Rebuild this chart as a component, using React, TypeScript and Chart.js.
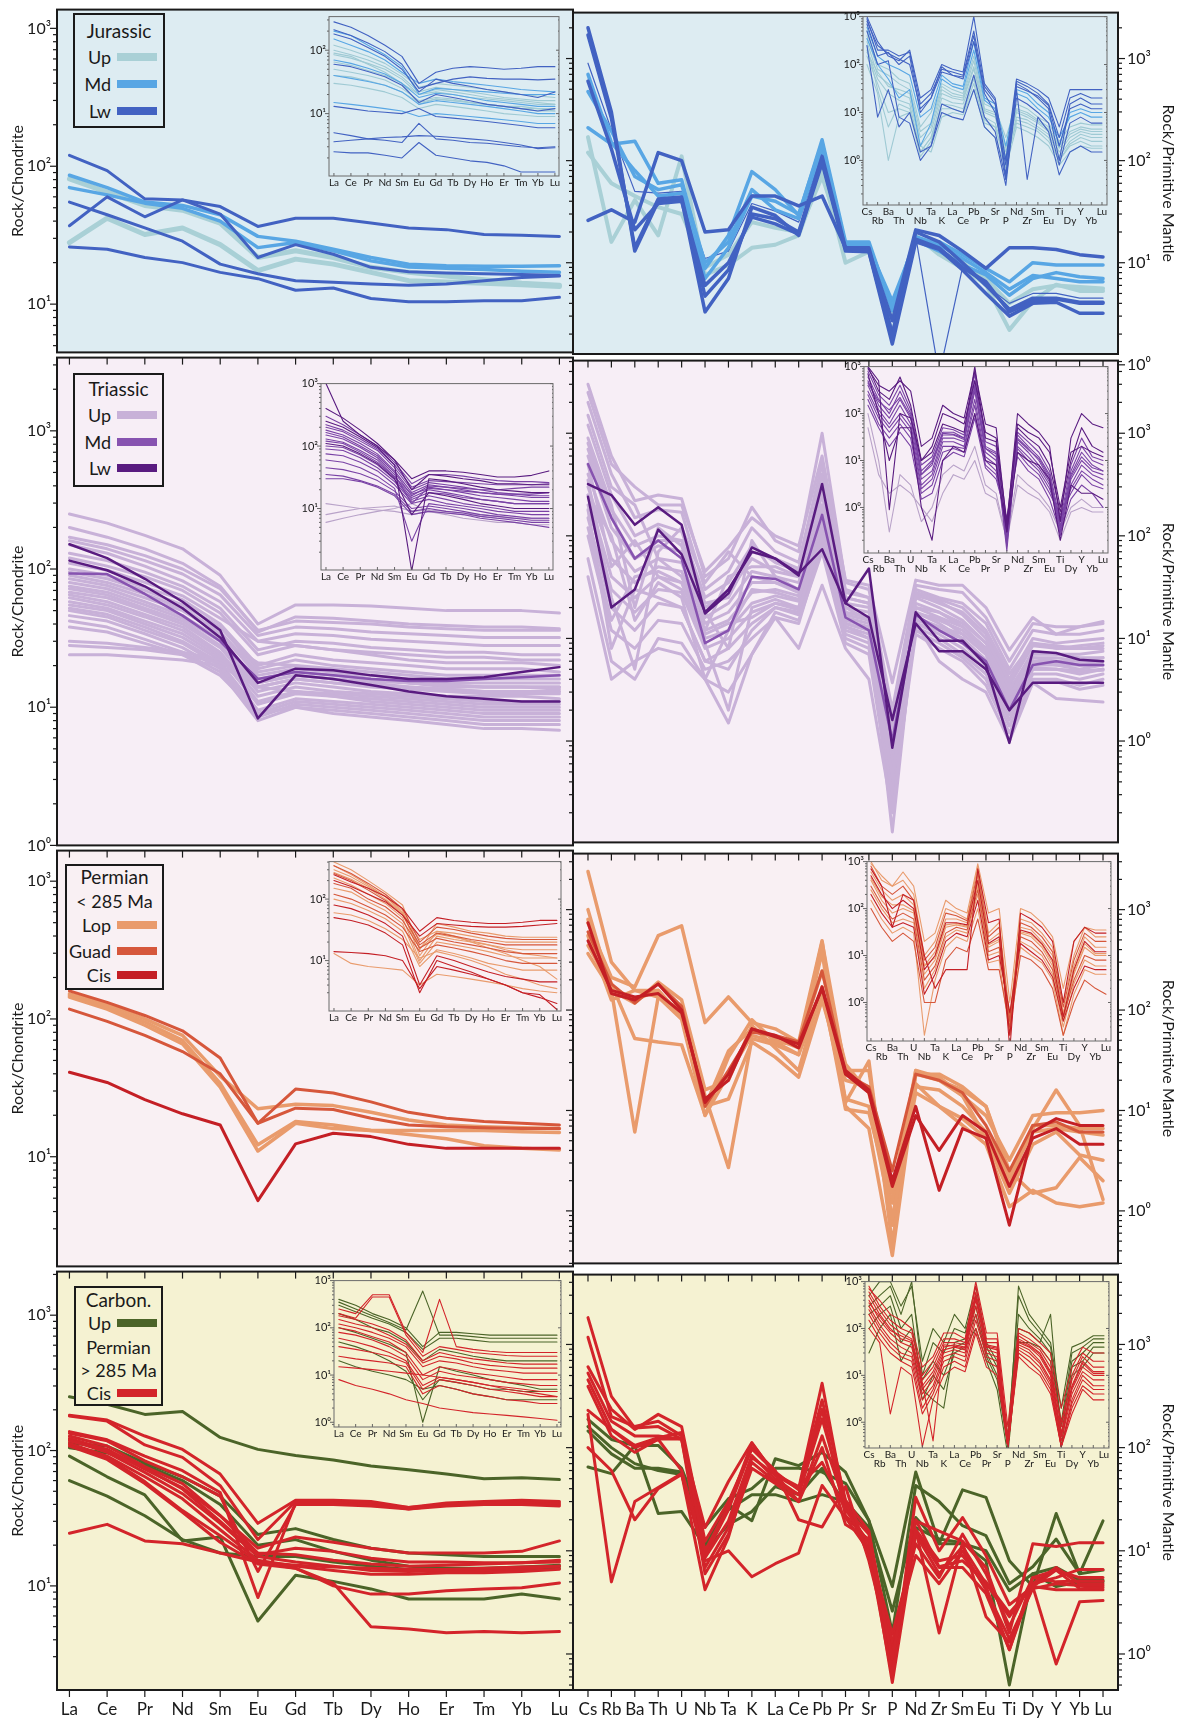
import React, { useEffect, useRef } from 'react';
import { Chart, registerables } from 'chart.js';

Chart.register(...registerables);

const FONT = 'Lato, "Open Sans", "DejaVu Sans", sans-serif';
const INK = '#1a1a1a';

// ---------- categories & tick labels ----------
const REE = ['La', 'Ce', 'Pr', 'Nd', 'Sm', 'Eu', 'Gd', 'Tb', 'Dy', 'Ho', 'Er', 'Tm', 'Yb', 'Lu'];
const SPIDER = ['Cs', 'Rb', 'Ba', 'Th', 'U', 'Nb', 'Ta', 'K', 'La', 'Ce', 'Pb', 'Pr', 'Sr', 'P', 'Nd', 'Zr', 'Sm', 'Eu', 'Ti', 'Dy', 'Y', 'Yb', 'Lu'];
const DECADE_LABELS = ['10⁰', '10¹', '10²', '10³'];

// ---------- Jurassic ----------
const jurReeUp = [
  [81, 65, 52, 48, 38.7, 21.8, 24.4, 21.8, 18.5, 17, 16, 15, 14.2, 13.7],
  [27.9, 42, 32, 35.7, 27, 17.5, 21.2, 19.5, 17, 14.8, 14.5, 14.2, 13.8, 13.4],
];
const jurReeMd = [
  [86, 70, 55, 52, 44.5, 31, 28.6, 25, 21.8, 19.5, 19, 18.8, 18.8, 19],
  [70, 62, 54, 49.5, 40, 25.7, 28, 24.4, 20.6, 18.6, 18.2, 17.8, 17.3, 17],
];
const jurReeLw = [
  [120, 93, 58, 57, 51, 36.6, 42, 42, 38.7, 35.7, 34.7, 32, 31.6, 31],
  [37, 60, 43, 57, 45, 21.8, 27, 23, 18.5, 17.2, 16.8, 16.6, 16.4, 16.1],
  [55, 44.5, 35.7, 28.6, 19.5, 16.6, 14.8, 14.4, 14, 13.7, 14, 14.8, 15.6, 16],
  [26, 25, 21.8, 20, 17, 15.3, 12.6, 13.1, 11, 10.4, 10.4, 10.6, 10.6, 11.2],
];
const jurSpUp = [
  [170, 16, 41, 18.5, 110, 7.6, 9.5, 14, 15, 18.5, 81, 10, 12.8, 2, 18.5, 12, 8.8, 6.1, 2.2, 4.2, 6.1, 5.3, 5.3],
  [120, 60, 45, 35, 30, 9, 12, 25, 22, 20, 70, 14, 13, 3, 17, 13, 10, 7, 4, 5.5, 6, 5.8, 5.6],
];
const jurSpMd = [
  [210, 145, 155, 60, 65, 8.8, 18.5, 78, 52, 29, 160, 16, 16, 3.4, 16, 16, 12, 8.8, 6.5, 10, 9.5, 9.5, 9.5],
  [475, 195, 70, 52, 58, 10, 16, 52, 33, 27, 135, 14, 14, 4.2, 16.5, 13, 9.5, 7.6, 4.8, 7, 8, 7.3, 7],
  [700, 150, 80, 45, 48, 7, 14, 45, 40, 30, 150, 15, 15, 3.6, 18, 15, 11, 8, 5.5, 7.5, 7, 6.5, 6.5],
];
const jurSpLw = [
  [2000, 300, 13, 40, 42, 3.3, 7, 35, 29, 18.5, 95, 13, 12.8, 1.6, 16, 13.5, 8.5, 5, 3, 4, 4.1, 3.2, 3.2],
  [1700, 260, 14, 42, 44, 4.7, 8.5, 30, 27, 20, 110, 14, 14, 2, 20, 16, 10, 6, 3.5, 4.5, 4.5, 4.1, 4.1],
  [600, 130, 21, 38, 40, 6, 10, 28, 24, 19, 100, 13.5, 13, 1.8, 17, 14, 9, 6.5, 3.3, 4.2, 4.4, 4, 4],
  [26, 33, 25, 120, 100, 20, 21, 45, 45, 36, 45, 14, 13, 2.7, 21, 18.5, 13, 8.8, 14, 14, 13.5, 12, 11.4],
];
const jurSpThin = [
  [900, 200, 50, 48, 50, 11, 13, 38, 32, 25, 120, 15, 16, 2.2, 18, 0.8, 9, 6, 4, 5, 5, 4.5, 4.5],
];
const jurReeInsetUp = [
  [120, 100, 80, 62, 42, 26, 30, 28, 26, 24, 22, 20, 19, 18],
  [100, 85, 70, 55, 38, 22, 26, 24, 22, 20, 18, 17, 16, 16],
  [85, 75, 62, 50, 35, 20, 24, 22, 20, 18, 17, 16, 15, 14],
  [50, 45, 40, 34, 25, 16, 18, 17, 15, 14, 13, 12, 11, 11],
  [30, 28, 25, 22, 18, 12, 14, 13, 12, 11, 10, 9.5, 9, 9],
  [90, 80, 60, 45, 30, 14, 17, 16, 15, 14, 13, 12, 12, 11],
  [65, 58, 48, 40, 30, 20, 22, 20, 18, 17, 16, 15, 14, 14],
  [40, 38, 33, 28, 22, 15, 17, 16, 15, 14, 13, 13, 12, 12],
];
const jurReeInsetMd = [
  [150, 120, 95, 70, 45, 30, 35, 32, 30, 28, 26, 24, 23, 22],
  [70, 62, 52, 42, 30, 18, 21, 20, 18, 16, 15, 14, 13, 13],
  [40, 36, 32, 28, 22, 14, 16, 15, 14, 13, 12, 11, 10, 10],
  [15, 14, 13, 12, 11, 9, 10, 9.5, 9, 8.5, 8, 7.5, 7, 7],
  [200, 170, 120, 85, 55, 20, 25, 24, 23, 22, 21, 20, 20, 20],
];
const jurReeInsetLw = [
  [280, 230, 170, 120, 80, 30, 45, 52, 55, 53, 50, 52, 55, 55],
  [210, 170, 130, 95, 60, 25, 30, 35, 38, 36, 35, 35, 34, 35],
  [180, 150, 110, 80, 50, 22, 35, 30, 27, 24, 22, 20, 18, 22],
  [60, 55, 46, 38, 28, 15, 20, 18, 16, 14, 13, 12, 11, 12],
  [13, 12, 11, 10.5, 10, 12, 9, 8.5, 8, 7.5, 7, 6.5, 6, 6],
  [5, 4.5, 4, 3.8, 3.5, 7, 4, 3.8, 3.5, 3.4, 3.2, 3, 2.9, 3],
  [3.6, 3.8, 4, 4.2, 4.3, 4.5, 4.4, 4.2, 4, 3.8, 3.5, 3.2, 2.8, 2.9],
  [2.5, 2.4, 2.4, 2.2, 2, 3.5, 2.2, 2, 1.8, 1.7, 1.5, 1.2, 1.2, 1.2],
];
const jurSpInsetUp = [
  [300, 60, 40, 25, 20, 2, 4, 25, 20, 18, 80, 10, 8, 1.5, 10, 8, 6, 4, 1.5, 3, 4, 3.5, 3.5],
  [200, 50, 25, 18, 15, 1.5, 3, 20, 16, 15, 60, 8, 6, 1.2, 8, 7, 5, 3.5, 1.2, 2.5, 3.5, 3, 3],
  [150, 40, 10, 12, 10, 1.2, 2.5, 15, 14, 12, 50, 7, 5, 0.8, 7, 6, 4.5, 3, 1, 2.2, 3, 2.5, 2.5],
  [400, 80, 60, 40, 30, 4, 6, 35, 25, 22, 120, 12, 10, 2, 12, 10, 7, 5, 2, 4, 5, 4.5, 4.5],
  [250, 30, 5, 15, 12, 1.5, 3, 12, 12, 10, 40, 6, 5, 1, 6, 5, 4, 2.5, 1, 2, 2.5, 2, 2],
  [100, 25, 1, 8, 10, 2, 1.5, 8, 10, 9, 30, 5, 3, 0.7, 5, 4, 3, 2, 0.8, 1.5, 2, 1.8, 1.8],
  [500, 100, 80, 50, 40, 5, 10, 40, 30, 25, 150, 15, 12, 3, 15, 12, 8, 6, 2.5, 5, 6, 5.5, 5.5],
  [180, 70, 35, 30, 25, 3, 5, 30, 22, 20, 90, 11, 9, 1.8, 11, 9, 6.5, 4.5, 1.8, 3.5, 4.5, 4, 4],
];
const jurSpInsetMd = [
  [600, 150, 100, 80, 60, 8, 12, 60, 40, 35, 300, 20, 15, 2, 25, 20, 12, 8, 3, 8, 10, 8, 8],
  [350, 100, 50, 20, 30, 2, 6, 50, 35, 30, 200, 18, 12, 1, 30, 25, 15, 10, 2, 10, 12, 10, 10],
];
const jurSpInsetLw = [
  [1000, 300, 150, 120, 200, 20, 30, 100, 80, 70, 1000, 40, 20, 1, 50, 40, 30, 20, 5, 30, 30, 30, 30],
  [900, 200, 200, 150, 180, 15, 25, 80, 70, 60, 500, 35, 18, 0.5, 45, 35, 25, 15, 3, 20, 25, 20, 20],
  [700, 150, 180, 100, 150, 10, 20, 70, 60, 50, 300, 30, 15, 0.4, 40, 30, 20, 12, 1, 15, 20, 15, 15],
  [250, 8, 30, 5, 10, 1.5, 2, 10, 8, 7, 30, 5, 3, 0.3, 30, 0.4, 8, 4, 0.5, 1.5, 2, 1.5, 1.5],
  [800, 250, 170, 130, 100, 12, 20, 90, 60, 55, 400, 25, 10, 0.8, 35, 28, 22, 14, 2, 12, 15, 12, 12],
  [500, 100, 120, 8, 6, 1, 2, 15, 12, 10, 60, 8, 4, 0.4, 20, 15, 10, 6, 0.8, 6, 8, 6, 6],
];

// ---------- Triassic ----------
const triReeUp = [
  [250, 215, 175, 140, 90, 40, 55, 55, 54, 52, 50, 50, 50, 48],
  [170, 150, 125, 100, 72, 36, 42, 41, 40, 38, 37, 36, 36, 36],
  [160, 140, 115, 92, 65, 33, 38, 37, 35, 34, 33, 32, 32, 32],
  [150, 130, 105, 82, 58, 30, 34, 33, 31, 30, 29, 28, 28, 28],
  [130, 115, 95, 75, 52, 26, 30, 29, 27, 26, 25, 25, 24, 24],
  [120, 105, 88, 70, 48, 24, 28, 26, 25, 24, 23, 23, 22, 22],
  [110, 98, 80, 64, 44, 30, 28, 26, 24, 22, 21, 21, 21, 20],
  [100, 90, 74, 60, 40, 20, 24, 22, 21, 20, 19, 19, 19, 18],
  [95, 85, 70, 55, 38, 19, 22, 20, 19, 18, 17, 17, 17, 17],
  [90, 80, 66, 52, 35, 18, 20, 19, 18, 17, 16, 16, 16, 16],
  [85, 76, 62, 50, 34, 17, 19, 18, 17, 16, 15, 15, 15, 15],
  [80, 72, 58, 46, 31, 21, 20, 18, 16, 15, 14, 14, 14, 14],
  [75, 68, 55, 44, 30, 15, 17, 16, 15, 14, 13.5, 13, 13, 13],
  [72, 65, 52, 42, 28, 14, 16, 15, 14, 13.5, 13, 12.5, 12.5, 12.5],
  [68, 62, 50, 40, 27, 13, 15, 14, 13, 12.5, 12, 12, 12, 11.5],
  [65, 58, 47, 38, 25, 12, 14, 13, 12.5, 12, 11.5, 11, 11, 11],
  [62, 55, 45, 36, 24, 11, 13, 12.5, 12, 11.5, 11, 10.5, 10.5, 10.5],
  [58, 52, 42, 34, 23, 10.5, 12.5, 12, 11.5, 11, 10.5, 10, 10, 10],
  [55, 50, 40, 32, 22, 14, 13, 12, 11, 10.5, 10, 9.5, 9.5, 9.5],
  [52, 47, 38, 30, 21, 9.5, 11.5, 11, 10.5, 10, 9.5, 9, 9, 9],
  [50, 45, 36, 29, 20, 9, 11, 10.5, 10, 9.5, 9, 8.5, 8.5, 8.5],
  [46, 42, 34, 27, 19, 8.5, 10.5, 10, 9.5, 9, 8.5, 8, 8, 8],
  [42, 38, 31, 25, 18, 8, 10, 9.5, 9, 8.5, 8, 7.5, 7.5, 7.5],
  [38, 35, 29, 24, 17, 9, 10, 9, 8.5, 8, 7.5, 7, 7, 6.8],
  [30, 29, 27, 25, 22, 16, 18, 17, 16, 15, 14.5, 14, 14, 14],
  [28, 27, 26, 24, 21, 15, 17, 16, 15.5, 15, 14.5, 14, 14, 13.5],
  [24, 24, 23, 22, 20, 14, 16, 15, 14.5, 14, 13.5, 13, 13, 13],
  [200, 170, 140, 110, 75, 35, 45, 44, 42, 40, 39, 38, 38, 37],
];
const triReeMd = [
  [93, 92, 66, 46, 30, 16, 18, 17, 16, 15.5, 15.5, 16, 16.5, 17],
];
const triReeLw = [
  [151, 120, 85, 58, 36, 8.3, 17, 16, 14.5, 13, 12, 11.5, 11, 11],
  [115, 98, 75, 52, 32, 15, 19, 18.5, 17, 16, 16, 16.5, 18, 19.5],
];
const triSpUp = [
  [3000, 600, 220, 250, 230, 40, 60, 190, 90, 70, 1000, 35, 30, 2, 33, 30, 28, 16, 6, 14, 13, 13, 14],
  [2000, 400, 150, 180, 170, 30, 45, 120, 70, 55, 500, 28, 25, 1.5, 30, 25, 22, 14, 5, 12, 11, 11, 12],
  [1200, 250, 100, 130, 110, 25, 35, 80, 55, 45, 300, 25, 22, 1.2, 27, 22, 18, 11, 4, 10, 9, 9.5, 10],
  [800, 180, 80, 100, 90, 20, 28, 60, 45, 40, 250, 22, 20, 1, 25, 20, 15, 9, 3.5, 8.5, 8, 8, 8.5],
  [600, 120, 60, 80, 70, 16, 22, 45, 40, 35, 200, 20, 18, 0.8, 22, 18, 13, 8, 3, 7.5, 7, 7, 7.5],
  [400, 90, 45, 60, 55, 14, 18, 35, 35, 30, 180, 18, 16, 0.7, 20, 16, 11, 7, 2.6, 6.5, 6.5, 6, 6.5],
  [300, 60, 35, 50, 45, 12, 15, 28, 30, 26, 150, 16, 14, 0.6, 18, 14, 10, 6, 2.3, 6, 6, 5.5, 6],
  [250, 40, 25, 40, 35, 10, 12, 22, 26, 23, 130, 14, 12, 0.5, 16, 12, 9, 5.5, 2, 5.5, 5.5, 5, 5.5],
  [200, 30, 18, 30, 28, 8, 10, 18, 22, 20, 110, 12, 10, 0.4, 14, 11, 8, 5, 1.8, 5, 5, 4.5, 5],
  [150, 20, 12, 22, 20, 6, 8, 14, 20, 17, 90, 11, 9, 0.35, 13, 10, 7, 4.5, 1.6, 4.5, 4.5, 4, 4.5],
  [100, 12, 8, 15, 14, 5, 6, 10, 16, 14, 80, 10, 8, 0.3, 12, 9, 6.5, 4, 1.4, 4, 4, 3.5, 4],
  [60, 6, 4, 10, 9, 4, 3, 7, 18, 15, 70, 9, 7, 0.25, 11, 8, 6, 3.5, 1.2, 3.7, 3.8, 3.2, 3.5],
  [1500, 300, 200, 60, 40, 12, 40, 50, 50, 40, 400, 30, 25, 1.8, 28, 24, 20, 12, 4.5, 9, 8.5, 8, 8],
  [900, 200, 20, 120, 80, 18, 8, 90, 40, 30, 200, 20, 15, 0.9, 20, 18, 14, 9, 3.2, 7, 7, 6.5, 6.5],
  [500, 50, 90, 40, 30, 9, 2, 20, 24, 20, 120, 14, 12, 0.6, 15, 13, 11, 7, 2.5, 6, 5.5, 5.5, 5.5],
  [350, 25, 5, 70, 120, 35, 70, 40, 35, 28, 160, 17, 15, 0.13, 18, 15, 12, 7.5, 2.7, 6, 5.8, 5.5, 5.5],
  [250, 100, 15, 35, 25, 4, 12, 30, 28, 24, 140, 15, 13, 0.4, 17, 16, 13, 8, 2.8, 6.5, 6, 6, 6],
  [180, 8, 30, 25, 20, 6, 5, 12, 20, 18, 100, 13, 11, 0.3, 14, 12, 10, 6, 2.2, 5, 5, 4.8, 5],
  [700, 150, 60, 90, 90, 22, 25, 70, 60, 48, 300, 25, 22, 1.3, 26, 23, 17, 10, 3.8, 9, 8, 8.5, 9],
  [40, 4, 6, 8, 7, 4, 1.5, 7, 16, 8, 33, 8, 4, 0.2, 14, 6, 4, 3, 1, 3.7, 2.6, 2.5, 2.4],
  [120, 15, 40, 45, 35, 11, 14, 16, 22, 19, 100, 13, 10, 0.45, 16, 13, 10, 6.2, 2.1, 5.2, 5, 4.8, 4.9],
  [2500, 500, 300, 200, 200, 45, 77, 150, 100, 80, 600, 37, 33, 3.7, 37, 33, 33, 20, 7.7, 16, 11, 13, 14.6],
];
const triSpMd = [
  [500, 150, 60, 90, 60, 9, 12, 40, 38, 30, 160, 16, 12, 1, 17, 12, 9, 6, 2, 5.5, 6, 5.5, 5.5],
];
const triSpLw = [
  [320, 250, 128, 190, 128, 17.5, 27.5, 77, 60, 41, 320, 22, 48, 0.86, 18, 9.5, 9.5, 5.5, 0.96, 7.5, 7.2, 6.2, 6],
  [240, 20, 30, 115, 66, 18, 30, 70, 60, 43, 74, 22, 16, 1.6, 14, 7.5, 7.5, 5, 2, 3.7, 3.7, 3.7, 3.7],
];
const triReeInsetUp = [
  [12, 11, 10, 9.5, 9, 8, 9, 8.5, 8, 7.5, 7, 7, 7, 7],
  [8, 9, 10, 10.5, 11, 9, 9.5, 9, 8.5, 8, 7.5, 7, 7, 7],
  [6, 7, 8, 9, 10, 12, 9, 8, 7, 6.5, 6, 6, 5.5, 5.5],
];
const triReeInsetMd = [
  [300, 220, 150, 100, 55, 25, 35, 35, 33, 30, 28, 27, 27, 26],
  [200, 170, 120, 85, 45, 20, 26, 24, 22, 20, 18, 17, 16, 16],
  [180, 150, 110, 75, 40, 18, 24, 22, 20, 18, 17, 16, 15, 15],
  [150, 130, 95, 65, 35, 12, 22, 20, 18, 16, 15, 14, 13, 13],
  [130, 115, 85, 60, 32, 15, 20, 18, 16, 14, 13, 12, 12, 12],
  [90, 85, 65, 45, 27, 13, 16, 14, 12, 11, 10, 9, 9, 9],
  [75, 70, 55, 40, 24, 12, 14, 12, 11, 10, 9, 8.5, 8, 8],
  [60, 55, 45, 33, 21, 3, 12, 11, 10, 9, 8, 7.5, 7, 7],
  [45, 42, 36, 28, 19, 10, 11, 10, 9, 8, 7.5, 7, 6.5, 6.5],
  [35, 33, 28, 23, 17, 9, 10, 9, 8.5, 7.5, 7, 6.5, 6, 6],
  [30, 30, 27, 22, 16, 8, 9, 8.5, 8, 7, 6.5, 6, 5.5, 5],
  [220, 180, 130, 90, 50, 22, 28, 27, 26, 25, 24, 24, 24, 25],
  [120, 110, 80, 55, 32, 17, 21, 20, 19, 18, 17, 17, 17, 18],
  [100, 95, 72, 50, 29, 14, 18, 17, 15, 14, 13, 12, 12, 12],
  [165, 140, 100, 70, 38, 16, 23, 22, 21, 20, 20, 21, 22, 22],
];
const triReeInsetLw = [
  [1000, 250, 150, 100, 60, 20, 35, 33, 30, 28, 25, 25, 24, 24],
  [400, 280, 180, 110, 60, 30, 40, 40, 38, 35, 32, 32, 34, 40],
  [250, 200, 140, 95, 50, 1, 30, 28, 25, 22, 20, 19, 18, 18],
  [110, 100, 75, 52, 30, 8, 18, 16, 14, 12, 11, 10, 10, 10],
];
const triSpInsetUp = [
  [100, 10, 0.3, 5, 3, 0.5, 1, 5, 8, 6, 20, 3, 2, 0.2, 5, 3, 2, 1, 0.3, 1, 1.5, 1, 1],
  [50, 5, 2, 3, 2, 1, 0.5, 2, 5, 4, 10, 2, 1.5, 0.2, 3, 2, 1.5, 0.8, 0.2, 0.8, 1, 0.8, 0.8],
];
const triSpInsetMd = [
  [800, 250, 150, 400, 120, 8, 12, 50, 45, 35, 700, 25, 20, 0.2, 40, 25, 15, 6, 0.5, 8, 30, 12, 10],
  [600, 200, 100, 300, 100, 6, 10, 40, 40, 30, 500, 20, 15, 0.15, 35, 20, 12, 5, 0.4, 6, 20, 10, 8],
  [500, 150, 80, 200, 80, 5, 8, 35, 35, 28, 400, 18, 12, 0.12, 30, 18, 10, 4, 0.3, 5, 15, 8, 6],
  [400, 120, 60, 150, 60, 4, 6, 30, 30, 25, 300, 15, 10, 0.2, 25, 15, 8, 3.5, 0.25, 4, 10, 6, 5],
  [300, 100, 50, 100, 50, 3, 5, 25, 25, 20, 200, 12, 8, 0.3, 20, 12, 7, 3, 0.5, 3, 8, 5, 4],
  [250, 80, 40, 80, 40, 2.5, 4, 20, 20, 18, 150, 10, 6, 0.4, 18, 10, 6, 2.5, 0.6, 2.5, 6, 4, 3],
  [200, 60, 30, 60, 30, 2, 3, 15, 18, 15, 100, 8, 5, 0.5, 15, 8, 5, 2, 0.7, 2, 5, 3, 2.5],
  [150, 50, 20, 40, 20, 1.5, 2, 10, 15, 12, 80, 7, 4, 0.6, 12, 6, 4, 1.5, 0.3, 1.5, 3, 2, 1],
  [450, 180, 120, 220, 90, 5, 9, 38, 36, 30, 350, 18, 14, 0.25, 28, 17, 11, 4.5, 0.35, 4.5, 12, 7, 6],
];
const triSpInsetLw = [
  [1000, 300, 200, 600, 150, 10, 15, 60, 50, 40, 1000, 30, 25, 0.3, 50, 30, 20, 8, 0.8, 10, 50, 20, 15],
  [1000, 500, 0.9, 100, 80, 10, 20, 100, 80, 60, 500, 40, 30, 0.5, 60, 40, 30, 15, 1, 15, 20, 15, 12],
  [700, 100, 10, 50, 50, 1, 0.2, 10, 20, 15, 100, 10, 8, 0.3, 15, 10, 8, 4, 0.2, 3, 2, 2, 1.5],
  [900, 400, 300, 500, 300, 20, 30, 150, 100, 80, 800, 60, 50, 0.4, 100, 60, 40, 20, 0.5, 30, 100, 60, 50],
];

// ---------- Permian (< 285 Ma) ----------
const permReeLop = [
  [152, 128, 100, 76, 38.5, 22.3, 24, 23.5, 21, 18.5, 17, 16.5, 16.2, 16],
  [148, 122, 95, 70, 34, 12.2, 18, 17, 15.5, 14.5, 13.5, 12, 11.5, 11.2],
  [144, 118, 90, 66, 32, 11, 17.5, 16, 15.5, 15.5, 15.5, 15.5, 15.2, 15],
];
const permReeGuad = [
  [160, 132, 106, 82, 52, 17.5, 31, 29, 25, 21, 19, 18, 17.5, 17],
  [118, 96, 76, 58, 40, 17.5, 22.5, 22, 19, 17, 16.5, 16.2, 16, 16],
];
const permReeCis = [
  [41, 34.6, 26, 20.5, 17, 4.8, 12.4, 14.8, 14, 12.3, 11.5, 11.5, 11.5, 11.5],
];
const permSpLop = [
  [2400, 300, 157, 157, 87, 11, 39, 65, 52, 42, 475, 25, 25, 0.72, 25, 20, 14, 5.3, 1.9, 7.1, 7.1, 6.6, 6.6],
  [1000, 157, 6.1, 135, 100, 14, 2.7, 52, 45, 36, 146, 13, 11, 0.83, 17.2, 16, 11, 6.1, 2.2, 6.6, 16, 7.1, 1.3],
  [740, 211, 170, 550, 690, 75, 135, 75, 65, 48, 490, 12, 31, 0.46, 23, 20, 16, 11, 2.5, 1.5, 1.7, 3.4, 2],
  [800, 182, 52, 48, 45, 9, 34, 80, 48, 36, 380, 11, 6.6, 0.36, 18.5, 11, 7.1, 4.6, 1.1, 1.6, 1.2, 1.1, 1.2],
  [365, 157, 117, 190, 126, 16, 20, 70, 42, 25, 170, 10.3, 9.5, 1.2, 23, 23, 17.2, 11, 2.2, 6.1, 6.6, 6.1, 5.7],
  [440, 170, 126, 157, 87, 11, 13, 48, 34, 21.5, 126, 20, 17.2, 0.83, 15, 11, 8.3, 5.3, 1.5, 4.6, 6.1, 3.6, 3.2],
  [550, 126, 157, 135, 81, 8.9, 23, 56, 48, 45, 245, 29, 15, 1.5, 25, 21.5, 14, 8.9, 3.2, 8.9, 9.5, 9.5, 10],
];
const permSpGuad = [
  [600, 182, 117, 182, 109, 11, 25, 60, 56, 48, 245, 23, 17.2, 2.5, 23, 20, 15, 7.1, 2.5, 7.1, 7.7, 6.1, 6.1],
];
const permSpCis = [
  [490, 157, 135, 146, 94, 13, 20, 65, 54, 46, 163, 23, 15, 1.75, 8.9, 4, 8.9, 6.1, 1.75, 5.3, 6.6, 4.6, 4.6],
  [740, 146, 126, 182, 100, 12, 23, 65, 56, 42, 170, 25, 16, 2, 11, 1.6, 6.6, 5.3, 0.72, 6.1, 8.3, 7.1, 7.1],
];
const permReeInsetLop = [
  [400, 300, 200, 130, 80, 15, 40, 35, 30, 28, 25, 24, 24, 24],
  [300, 230, 160, 110, 65, 12, 30, 28, 25, 22, 20, 20, 20, 20],
  [220, 170, 120, 85, 50, 10, 25, 22, 20, 18, 16, 15, 15, 15],
  [150, 130, 90, 65, 40, 9, 20, 18, 16, 14, 12, 11, 11, 11],
  [100, 85, 65, 48, 30, 8, 15, 13, 11, 9, 8, 7, 7, 7],
  [60, 55, 45, 33, 22, 11, 14, 12, 10, 8, 6, 5, 4, 3.5],
  [13, 9, 8, 7.5, 7, 4, 6, 5.5, 5, 4.5, 4, 3.5, 3.2, 3],
  [350, 250, 170, 110, 60, 22, 30, 25, 20, 16, 13, 10, 8, 5],
  [270, 210, 150, 100, 58, 16, 27, 24, 21, 18, 15, 13, 12, 11],
];
const permReeInsetGuad = [
  [350, 260, 180, 120, 70, 20, 35, 32, 28, 25, 23, 22, 22, 22],
  [260, 200, 140, 95, 55, 18, 28, 25, 22, 20, 18, 18, 18, 18],
  [180, 150, 100, 75, 45, 16, 23, 20, 18, 16, 14, 13, 13, 13],
  [120, 100, 75, 55, 35, 14, 18, 16, 14, 12, 10, 9, 9, 9],
];
const permReeInsetCis = [
  [80, 70, 55, 40, 25, 4, 12, 10, 8, 6.5, 5.5, 5, 4.5, 4.5],
  [50, 45, 38, 28, 18, 3, 10, 8, 6.5, 5, 4, 3, 2.5, 2],
  [14, 13.5, 13, 12, 10, 3.5, 8, 7, 6, 5, 4, 3, 2.8, 1.6],
  [250, 190, 150, 110, 70, 30, 50, 45, 42, 40, 40, 42, 45, 45],
  [200, 160, 120, 90, 55, 25, 40, 38, 36, 35, 35, 36, 38, 40],
];
const permSpInsetLop = [
  [1000, 400, 300, 400, 200, 10, 20, 100, 80, 60, 800, 30, 50, 0.5, 60, 50, 30, 15, 1, 10, 40, 25, 25],
  [600, 250, 150, 200, 120, 6, 12, 60, 60, 50, 500, 20, 30, 0.3, 40, 35, 20, 10, 0.6, 6, 25, 15, 15],
  [400, 150, 80, 100, 80, 4, 8, 40, 45, 40, 300, 15, 20, 0.3, 30, 25, 15, 6, 0.4, 4, 15, 10, 10],
  [250, 100, 50, 60, 50, 2, 5, 25, 35, 30, 200, 10, 12, 0.5, 20, 15, 10, 4, 0.3, 2.5, 8, 6, 6],
  [150, 60, 30, 40, 30, 0.2, 3, 15, 25, 20, 100, 7, 8, 0.2, 15, 10, 7, 3, 0.2, 1.5, 5, 4, 4],
  [900, 500, 300, 600, 300, 20, 30, 150, 100, 80, 900, 80, 100, 1, 100, 80, 50, 25, 2, 20, 40, 35, 35],
  [450, 180, 120, 120, 90, 6, 9, 45, 48, 42, 350, 17, 22, 0.25, 32, 28, 17, 7, 0.45, 4.5, 18, 11, 11],
];
const permSpInsetGuad = [
  [800, 300, 200, 300, 150, 8, 15, 80, 70, 55, 600, 25, 40, 0.4, 50, 40, 25, 12, 0.8, 8, 30, 20, 20],
  [300, 120, 60, 80, 60, 3, 6, 30, 40, 35, 250, 12, 15, 0.4, 25, 20, 12, 5, 0.5, 3, 10, 8, 8],
  [100, 40, 20, 30, 20, 1, 1, 8, 15, 12, 60, 5, 5, 0.3, 10, 8, 5, 2, 0.2, 1, 3, 2, 1.5],
];
const permSpInsetCis = [
  [500, 200, 100, 150, 100, 5, 10, 50, 50, 45, 400, 18, 25, 0.2, 35, 30, 18, 8, 0.5, 5, 20, 12, 12],
  [200, 80, 40, 50, 40, 1.5, 4, 20, 30, 25, 150, 8, 10, 0.6, 18, 12, 8, 3.5, 0.4, 2, 6, 5, 5],
  [700, 300, 40, 200, 150, 10, 2, 5, 5, 5, 700, 50, 60, 0.1, 80, 60, 40, 20, 1, 20, 40, 30, 30],
];

// ---------- Carboniferous & Permian (> 285 Ma) ----------
const carbReeUp = [
  [250, 220, 185, 194, 125, 102, 92, 85, 77, 72, 67, 62, 63, 61],
  [113, 108, 81, 64, 46, 24, 26.5, 22, 19, 17.5, 17, 16.5, 16.5, 16.5],
  [91, 64, 47, 21.5, 23, 5.5, 12, 10.8, 9.5, 8, 8, 8, 8.7, 8],
  [60, 46, 33, 22, 17.5, 16.5, 16.5, 15, 14, 13.2, 13, 13, 13.2, 13.5],
  [105, 96, 78, 60, 40, 20, 22, 18, 15.5, 14, 13.5, 13.5, 13.8, 14.2],
];
const cisReeRed = [
  [182, 168, 128, 102, 67, 29, 43, 43, 42, 38, 41, 42, 43, 42],
  [180, 165, 110, 89, 55, 22, 42, 42, 41, 37, 40, 41, 42, 41],
  [138, 120, 91, 71, 49, 8.2, 41, 41, 40, 38, 40, 41, 41, 40],
  [134, 118, 84, 64, 46, 12.8, 40, 40, 39, 37, 39, 40, 40, 39],
  [128, 108, 76, 57, 33, 19, 23, 21, 19, 17.5, 17.5, 17.5, 18, 21.5],
  [123, 102, 73, 53, 33, 17.5, 17, 15.5, 14.5, 14, 14.2, 14.5, 14.8, 15],
  [120, 97, 69, 48, 29, 16.5, 15, 14, 13, 12.8, 13, 13, 13.3, 14],
  [113, 91, 64, 44, 26, 15.5, 14, 13, 12.2, 12.2, 12.5, 12.5, 12.8, 13.3],
  [111, 89, 59, 36, 23.5, 15, 13.5, 10, 8.7, 8.7, 9.2, 9.5, 9.7, 10.5],
  [108, 86, 57, 35, 21, 14.5, 13.5, 10.5, 5, 4.8, 4.5, 4.6, 4.5, 4.6],
  [24.5, 28.5, 21.5, 20.5, 17.5, 15, 14.2, 13.8, 13.5, 13.2, 13.2, 13.5, 13.8, 14],
  [118, 100, 74, 52, 30, 17, 19, 18, 16, 15, 15, 14.8, 14.8, 15.5],
];
const carbSpUp = [
  [65, 56, 105, 23, 24, 11, 28, 19.6, 78, 67, 90, 58, 19.6, 4.5, 58, 11.7, 39, 33, 8, 4.5, 23, 6, 19.5],
  [145, 87, 63, 63, 58, 11.7, 25, 35, 35, 30, 35, 30, 16.8, 2.6, 21, 11.7, 11.7, 10, 4.1, 6, 6.9, 5.2, 5.2],
  [160, 100, 70, 60, 55, 10, 18, 24, 42, 35, 63, 28, 15.5, 0.67, 16.8, 13, 12, 8, 0.5, 6, 4.5, 5, 5],
  [188, 120, 105, 105, 63, 17, 32, 40, 63, 63, 58, 45, 19.6, 1.6, 43, 30, 17.5, 14, 4.8, 7, 13, 6, 6.5],
];
const cisSpRed = [
  [1820, 314, 155, 160, 121, 16.8, 47, 112, 54, 40, 420, 26, 14.5, 1.1, 15.5, 6.9, 6.9, 3.85, 1.1, 4.8, 5.5, 6.6, 6.6],
  [607, 235, 150, 210, 160, 12.4, 30, 97, 58, 39, 290, 31, 15.5, 0.76, 19.5, 15.5, 12.4, 6.9, 1.6, 11.7, 11, 12, 12],
  [527, 180, 130, 130, 121, 8.6, 19.4, 84, 50, 35, 235, 22, 12.4, 0.53, 14.5, 6, 11, 4.8, 2.3, 4.8, 6.9, 4.8, 4.8],
  [453, 151, 105, 125, 140, 6.9, 16.8, 72, 47, 35, 190, 30, 10.5, 1.55, 11.7, 5.5, 14.5, 6, 1.85, 5.5, 5, 5.1, 5.1],
  [392, 130, 90, 121, 121, 6, 14.5, 63, 45, 30, 130, 28, 9, 1.3, 9, 4.8, 10, 4.2, 1.4, 4.3, 4.8, 4.6, 4.6],
  [210, 5, 30, 41, 56, 4.2, 13.5, 80, 55, 42, 72, 25, 12, 0.9, 20, 7, 8, 5, 2.5, 4.5, 4.2, 4.2, 4.2],
  [100, 60, 20, 40, 55, 8, 10, 5.6, 7.5, 9.5, 43, 21, 10, 0.6, 33, 10, 21, 9, 3, 4.5, 0.8, 3.2, 3.3],
  [230, 150, 100, 120, 60, 9, 25, 100, 60, 20, 17, 42, 8, 1, 16, 1.6, 12, 2.3, 1.3, 4.5, 6.5, 4.3, 4.4],
  [1175, 200, 160, 180, 130, 10, 27, 110, 55, 30, 100, 18, 13, 0.9, 16, 8, 9, 4.5, 1.1, 5.5, 6.5, 5.5, 5.5],
];
const carbReeInsetUp = [
  [400, 300, 200, 150, 100, 40, 80, 80, 75, 70, 70, 70, 70, 70],
  [350, 250, 180, 130, 90, 600, 70, 70, 65, 60, 60, 60, 60, 60],
  [300, 220, 160, 120, 80, 35, 60, 60, 55, 50, 50, 50, 50, 50],
  [200, 150, 100, 80, 50, 20, 35, 30, 25, 22, 20, 20, 20, 20],
  [100, 80, 60, 45, 30, 1, 15, 12, 10, 8, 7, 6, 5, 5],
  [50, 40, 30, 20, 12, 3, 8, 7, 6, 5, 5, 4.5, 4.5, 4.5],
  [20, 15, 12, 10, 8, 5, 6, 5, 4, 3.5, 3, 3, 3, 3],
];
const carbReeInsetCis = [
  [250, 200, 500, 500, 80, 30, 400, 40, 35, 32, 30, 30, 30, 30],
  [200, 160, 450, 450, 70, 25, 40, 35, 30, 28, 26, 25, 25, 25],
  [180, 150, 120, 90, 55, 20, 30, 25, 22, 20, 18, 17, 17, 17],
  [150, 120, 100, 70, 45, 18, 25, 22, 18, 16, 15, 14, 14, 14],
  [120, 100, 80, 60, 40, 15, 20, 18, 15, 13, 12, 11, 11, 11],
  [100, 85, 65, 50, 30, 10, 15, 13, 11, 10, 9, 8, 8, 8],
  [80, 70, 55, 40, 25, 8, 12, 10, 9, 8, 7, 6.5, 6, 6],
  [60, 50, 40, 30, 20, 6, 9, 8, 7, 6, 5.5, 5, 4.5, 4.5],
  [40, 35, 30, 25, 18, 5, 8, 7, 6, 5, 4.5, 4, 3.5, 3.5],
  [25, 22, 20, 18, 15, 4, 6, 5, 4, 3.5, 3, 2.8, 2.5, 2.5],
  [15, 14, 13, 12, 11, 10, 9, 8, 7, 6, 5, 4.5, 4, 3.5],
  [8, 6, 5, 4, 3, 2.5, 2, 1.8, 1.6, 1.5, 1.4, 1.3, 1.2, 1.1],
];
const carbSpInsetUp = [
  [500, 1000, 1000, 300, 800, 20, 100, 50, 200, 100, 800, 50, 20, 0.3, 800, 200, 100, 50, 2, 40, 50, 70, 70],
  [300, 500, 800, 200, 1000, 10, 50, 30, 100, 80, 500, 40, 15, 0.5, 500, 150, 80, 40, 1, 30, 40, 60, 60],
  [200, 300, 500, 100, 200, 5, 3, 2, 50, 60, 300, 30, 10, 0.4, 200, 100, 60, 30, 0.8, 20, 30, 50, 50],
  [100, 200, 300, 50, 100, 8, 20, 10, 40, 50, 200, 25, 8, 0.3, 100, 80, 50, 200, 0.5, 15, 20, 40, 40],
  [30, 100, 200, 20, 50, 3, 10, 5, 30, 40, 100, 20, 5, 0.2, 50, 50, 40, 20, 0.3, 10, 15, 30, 30],
];
const carbSpInsetCis = [
  [800, 300, 150, 100, 80, 10, 20, 60, 60, 50, 800, 60, 60, 0.5, 80, 60, 40, 20, 1, 10, 30, 20, 20],
  [600, 250, 120, 80, 60, 8, 15, 50, 50, 45, 600, 50, 50, 0.4, 70, 50, 35, 15, 0.8, 8, 25, 15, 15],
  [500, 200, 100, 60, 50, 6, 12, 40, 45, 40, 500, 45, 40, 0.3, 60, 45, 30, 12, 0.6, 6, 20, 12, 12],
  [400, 150, 80, 50, 40, 5, 10, 35, 40, 35, 400, 40, 35, 0.3, 50, 40, 25, 10, 0.5, 5, 15, 10, 10],
  [300, 120, 60, 40, 30, 4, 8, 30, 35, 30, 300, 35, 30, 0.3, 45, 35, 20, 8, 0.4, 4, 12, 8, 8],
  [250, 100, 50, 30, 25, 3, 6, 25, 30, 25, 200, 30, 25, 0.3, 40, 30, 18, 7, 0.3, 3, 10, 6, 6],
  [200, 80, 40, 25, 20, 2, 5, 20, 25, 20, 150, 25, 20, 0.3, 35, 25, 15, 6, 0.3, 2.5, 8, 5, 5],
  [150, 60, 30, 20, 15, 1.5, 4, 15, 20, 15, 100, 20, 15, 0.3, 30, 20, 12, 5, 0.3, 2, 6, 4, 4],
  [100, 50, 1.5, 15, 10, 0.3, 3, 10, 15, 12, 80, 15, 10, 0.3, 25, 15, 10, 4, 0.3, 1.5, 5, 3, 3],
  [700, 400, 200, 150, 100, 15, 25, 80, 80, 60, 1000, 80, 80, 0.8, 100, 80, 50, 30, 2, 15, 40, 30, 30],
  [350, 180, 90, 70, 55, 7, 0.4, 45, 42, 38, 450, 42, 38, 0.3, 55, 42, 28, 11, 0.5, 5.5, 18, 11, 11],
];

// ---------- styles ----------
const JUR = { up: '#a9d0d6', md: '#58a6e4', lw: '#4262c2', bg: '#ddecf2' };
const TRI = { up: '#c8b1d8', md: '#8753b0', lw: '#591b80', bg: '#f7eef6' };
const PER = { lop: '#e99b6c', guad: '#d6573b', cis: '#c41f25', bg: '#f9f0f3' };
const CAR = { up: '#4b6428', cis: '#d3242a', bg: '#f5f2d2' };

type Group = { lines: number[][]; color: string; width: number };
type Kind = 'mainL' | 'mainR' | 'insetL' | 'insetR';
type PanelDef = {
  id: string; kind: Kind; area: number[]; yLog: number[]; groups: Group[]; bg: string;
  xAxis?: boolean; topTicks?: boolean; extra?: number; z: number;
};

const PANELS: PanelDef[] = [
  { id: 'r1l', kind: 'mainL', area: [57, 6, 573, 354], yLog: [0.65, 3.136], bg: JUR.bg, z: 16,
    groups: [{ lines: jurReeUp, color: JUR.up, width: 5 }, { lines: jurReeMd, color: JUR.md, width: 3.5 }, { lines: jurReeLw, color: JUR.lw, width: 3 }] },
  { id: 'r1r', kind: 'mainR', area: [573, 6, 1118, 354], yLog: [0.106, 3.45], bg: JUR.bg, z: 17, extra: 1,
    groups: [{ lines: jurSpUp, color: JUR.up, width: 4 }, { lines: jurSpThin, color: JUR.lw, width: 1.2 }, { lines: jurSpMd, color: JUR.md, width: 3.5 }, { lines: jurSpLw, color: JUR.lw, width: 3.5 }] },
  { id: 'r2l', kind: 'mainL', area: [57, 354, 573, 847], yLog: [0, 3.53], bg: TRI.bg, z: 14, topTicks: true,
    groups: [{ lines: triReeUp, color: TRI.up, width: 3 }, { lines: triReeMd, color: TRI.md, width: 2.5 }, { lines: triReeLw, color: TRI.lw, width: 2.5 }] },
  { id: 'r2r', kind: 'mainR', area: [573, 354, 1118, 847], yLog: [-0.988, 3.708], bg: TRI.bg, z: 15, topTicks: true,
    groups: [{ lines: triSpUp, color: TRI.up, width: 3 }, { lines: triSpMd, color: TRI.md, width: 2.5 }, { lines: triSpLw, color: TRI.lw, width: 2.5 }] },
  { id: 'r3l', kind: 'mainL', area: [57, 847, 573, 1268], yLog: [0.204, 3.222], bg: PER.bg, z: 12, topTicks: true,
    groups: [{ lines: permReeLop, color: PER.lop, width: 3.5 }, { lines: permReeGuad, color: PER.guad, width: 3 }, { lines: permReeCis, color: PER.cis, width: 3 }] },
  { id: 'r3r', kind: 'mainR', area: [573, 847, 1118, 1268], yLog: [-0.49, 3.558], bg: PER.bg, z: 13, topTicks: true,
    groups: [{ lines: permSpLop, color: PER.lop, width: 3.5 }, { lines: permSpGuad, color: PER.guad, width: 3 }, { lines: permSpCis, color: PER.cis, width: 3 }] },
  { id: 'r4l', kind: 'mainL', area: [57, 1268, 573, 1690], yLog: [0.231, 3.322], bg: CAR.bg, z: 10, topTicks: true, xAxis: true,
    groups: [{ lines: carbReeUp, color: CAR.up, width: 3 }, { lines: cisReeRed, color: CAR.cis, width: 3 }] },
  { id: 'r4r', kind: 'mainR', area: [573, 1268, 1118, 1690], yLog: [-0.349, 3.677], bg: CAR.bg, z: 11, topTicks: true, xAxis: true,
    groups: [{ lines: carbSpUp, color: CAR.up, width: 3 }, { lines: cisSpRed, color: CAR.cis, width: 3 }] },

  { id: 'i1l', kind: 'insetL', area: [329, 15, 559, 176], yLog: [0.016, 2.53], bg: JUR.bg, z: 40,
    groups: [{ lines: jurReeInsetUp, color: '#9fcad4', width: 1.1 }, { lines: jurReeInsetMd, color: JUR.md, width: 1.1 }, { lines: jurReeInsetLw, color: JUR.lw, width: 1.1 }] },
  { id: 'i1r', kind: 'insetR', area: [863, 15, 1107, 205], yLog: [-0.93, 3], bg: JUR.bg, z: 40,
    groups: [{ lines: jurSpInsetUp, color: '#9fcad4', width: 1.1 }, { lines: jurSpInsetMd, color: JUR.md, width: 1.1 }, { lines: jurSpInsetLw, color: JUR.lw, width: 1.1 }] },
  { id: 'i2l', kind: 'insetL', area: [321, 382, 553, 570], yLog: [0.016, 3], bg: TRI.bg, z: 40,
    groups: [{ lines: triReeInsetUp, color: '#b9a3c9', width: 1.1 }, { lines: triReeInsetMd, color: '#7a43a6', width: 1.1 }, { lines: triReeInsetLw, color: TRI.lw, width: 1.1 }] },
  { id: 'i2r', kind: 'insetR', area: [864, 365, 1108, 553], yLog: [-0.97, 3], bg: TRI.bg, z: 40,
    groups: [{ lines: triSpInsetUp, color: '#b9a3c9', width: 1.1 }, { lines: triSpInsetMd, color: '#7a43a6', width: 1.1 }, { lines: triSpInsetLw, color: TRI.lw, width: 1.1 }] },
  { id: 'i3l', kind: 'insetL', area: [329, 860, 561, 1011], yLog: [0.18, 2.61], bg: PER.bg, z: 40,
    groups: [{ lines: permReeInsetLop, color: PER.lop, width: 1.1 }, { lines: permReeInsetGuad, color: PER.guad, width: 1.1 }, { lines: permReeInsetCis, color: PER.cis, width: 1.1 }] },
  { id: 'i3r', kind: 'insetR', area: [867, 860, 1111, 1041], yLog: [-0.82, 3], bg: PER.bg, z: 40,
    groups: [{ lines: permSpInsetLop, color: PER.lop, width: 1.1 }, { lines: permSpInsetGuad, color: PER.guad, width: 1.1 }, { lines: permSpInsetCis, color: PER.cis, width: 1.1 }] },
  { id: 'i4l', kind: 'insetL', area: [334, 1279, 561, 1427], yLog: [-0.1, 3], bg: CAR.bg, z: 40,
    groups: [{ lines: carbReeInsetUp, color: CAR.up, width: 1.1 }, { lines: carbReeInsetCis, color: CAR.cis, width: 1.1 }] },
  { id: 'i4r', kind: 'insetR', area: [865, 1280, 1109, 1448], yLog: [-0.55, 3], bg: CAR.bg, z: 40,
    groups: [{ lines: carbSpInsetUp, color: CAR.up, width: 1.1 }, { lines: carbSpInsetCis, color: CAR.cis, width: 1.1 }] },
];

type LegendRow = { t: string; cy: number; c?: string };
const LEGENDS: { box: number[]; bg: string; rows: LegendRow[] }[] = [
  { box: [73, 13, 165, 128], bg: JUR.bg, rows: [{ t: 'Jurassic', cy: 31 }, { t: 'Up', cy: 57, c: JUR.up }, { t: 'Md', cy: 84, c: JUR.md }, { t: 'Lw', cy: 111, c: JUR.lw }] },
  { box: [73, 373, 164, 487], bg: TRI.bg, rows: [{ t: 'Triassic', cy: 389 }, { t: 'Up', cy: 415, c: TRI.up }, { t: 'Md', cy: 442, c: TRI.md }, { t: 'Lw', cy: 468, c: TRI.lw }] },
  { box: [65, 864, 164, 990], bg: PER.bg, rows: [{ t: 'Permian', cy: 877 }, { t: '< 285 Ma', cy: 901 }, { t: 'Lop', cy: 925, c: PER.lop }, { t: 'Guad', cy: 951, c: PER.guad }, { t: 'Cis', cy: 975, c: PER.cis }] },
  { box: [74, 1286, 163, 1406], bg: CAR.bg, rows: [{ t: 'Carbon.', cy: 1300 }, { t: 'Up', cy: 1323, c: CAR.up }, { t: 'Permian', cy: 1347 }, { t: '> 285 Ma', cy: 1370 }, { t: 'Cis', cy: 1393, c: CAR.cis }] },
];

// ---------- chart helpers ----------
function decadeLabel(v: number) {
  const l = Math.log10(v);
  const r = Math.round(l);
  return Math.abs(l - r) < 1e-6 && r >= 0 && r <= 3 ? DECADE_LABELS[r] : '';
}

function geom(p: PanelDef) {
  const [x0, y0, x1, y1] = p.area;
  const main = p.kind === 'mainL' || p.kind === 'mainR';
  const yW = p.kind === 'mainL' ? 57 : p.kind === 'mainR' ? 68 : 28;
  const xH = main ? (p.xAxis ? 30 : 0) : p.kind === 'insetL' ? 14 : 23;
  const padT = main ? 12 : 8;
  const padB = main ? (p.xAxis ? 0 : p.extra ? 26 : 14) : 2;
  const padL = p.kind === 'mainR' ? 12 : 0;
  const padR = p.kind === 'mainL' ? 12 : p.kind === 'mainR' ? 0 : 6;
  const yLeft = p.kind !== 'mainR';
  const left = yLeft ? x0 - yW - padL : x0 - padL;
  const w = padL + padR + yW + (x1 - x0);
  const top = y0 - padT;
  const h = padT + (y1 - y0) + xH + padB;
  return { left, top, w, h, yW, xH, padT, padB, padL, padR, yLeft, main };
}

function makeDeco(p: PanelDef, nCats: number) {
  const main = p.kind === 'mainL' || p.kind === 'mainR';
  const maj = main ? 7 : 4;
  const mnr = main ? 4 : 2;
  return {
    id: 'deco_' + p.id,
    beforeDraw(chart: any) {
      const { ctx, chartArea: a } = chart;
      ctx.save();
      ctx.fillStyle = p.bg;
      ctx.fillRect(a.left, a.top, a.right - a.left, a.bottom - a.top);
      ctx.restore();
    },
    afterDraw(chart: any) {
      const { ctx, chartArea: a, scales } = chart;
      const ys = scales.y;
      const xs = scales.x;
      ctx.save();
      ctx.strokeStyle = main ? INK : '#555';
      ctx.lineWidth = main ? 1.2 : 0.9;
      const seg = (ax: number, ay: number, bx: number, by: number) => {
        ctx.beginPath(); ctx.moveTo(ax, ay); ctx.lineTo(bx, by); ctx.stroke();
      };
      for (const t of ys.ticks) {
        const v = t.value;
        if (!(v > 0)) continue;
        const e = Math.floor(Math.log10(v) + 1e-9);
        const m = v / Math.pow(10, e);
        if (Math.abs(m - Math.round(m)) > 1e-6) continue;
        const py = ys.getPixelForValue(v);
        if (py < a.top - 0.5 || py > a.bottom + 0.5) continue;
        const len = Math.round(m) === 1 ? maj : mnr;
        if (p.kind === 'mainR') { seg(a.left, py, a.left - len, py); seg(a.right, py, a.right + len, py); }
        else if (p.kind === 'mainL') { seg(a.left, py, a.left - len, py); }
        else { seg(a.left, py, a.left - len, py); seg(a.right, py, a.right - (len - 1), py); }
      }
      for (let i = 0; i < nCats; i++) {
        const px = xs.getPixelForValue(i);
        if (main) {
          if (p.topTicks) seg(px, a.top, px, a.top + 7);
          if (p.xAxis) seg(px, a.bottom, px, a.bottom + 7);
        } else {
          seg(px, a.bottom, px, a.bottom - 3);
        }
      }
      if (p.extra) {
        const py = ys.getPixelForValue(p.extra);
        seg(a.right, py, a.right + maj, py);
        ctx.fillStyle = INK;
        ctx.font = '16px ' + FONT;
        ctx.textBaseline = 'middle';
        ctx.textAlign = 'left';
        ctx.fillText(decadeLabel(p.extra), a.right + 9, py);
      }
      ctx.strokeStyle = main ? INK : '#6a6a6a';
      ctx.lineWidth = main ? 2 : 1;
      ctx.strokeRect(a.left, a.top, a.right - a.left, a.bottom - a.top);
      ctx.restore();
    },
  };
}

function buildConfig(p: PanelDef, g: ReturnType<typeof geom>): any {
  const left = p.kind === 'mainL' || p.kind === 'insetL';
  const cats = left ? REE : SPIDER;
  const xr = p.kind === 'mainL' ? [-0.33, 13.36] : p.kind === 'mainR' ? [-0.64, 22.64] : p.kind === 'insetL' ? [-0.29, 13.24] : [-0.37, 22.47];
  const datasets: any[] = [];
  p.groups.forEach((grp) => {
    grp.lines.forEach((line) => {
      datasets.push({
        data: line.map((v, i) => ({ x: i, y: v })),
        borderColor: grp.color,
        borderWidth: grp.width,
        pointRadius: 0,
        tension: 0,
        fill: false,
        borderJoinStyle: 'round',
        borderCapStyle: 'round',
      });
    });
  });
  datasets.reverse();
  const main = g.main;
  const showX = main ? !!p.xAxis : true;
  const xTickFont = main ? { family: FONT, size: 17 } : { family: FONT, size: 10, lineHeight: 0.95 };
  return {
    type: 'line',
    data: { datasets },
    plugins: [makeDeco(p, cats.length)],
    options: {
      responsive: false,
      animation: false,
      devicePixelRatio: 1,
      events: [],
      layout: { padding: { left: g.padL, right: g.padR, top: g.padT, bottom: g.padB } },
      plugins: { legend: { display: false }, tooltip: { enabled: false } },
      scales: {
        x: {
          type: 'linear',
          position: 'bottom',
          min: xr[0],
          max: xr[1],
          display: showX,
          afterBuildTicks: (s: any) => { s.ticks = cats.map((_, i) => ({ value: i })); },
          afterFit: (s: any) => { s.height = g.xH; },
          grid: { display: false, drawTicks: false },
          border: { display: false },
          ticks: {
            autoSkip: false,
            maxRotation: 0,
            minRotation: 0,
            padding: main ? 9 : 2,
            color: INK,
            font: xTickFont,
            callback: (v: any) => {
              const i = Math.round(Number(v));
              if (p.kind === 'insetR') return i % 2 === 0 ? [cats[i], ''] : ['', cats[i]];
              return cats[i];
            },
          },
        },
        y: {
          type: 'logarithmic',
          position: g.yLeft ? 'left' : 'right',
          min: Math.pow(10, p.yLog[0]),
          max: Math.pow(10, p.yLog[1]),
          afterFit: (s: any) => { s.width = g.yW; },
          grid: { display: false, drawTicks: false },
          border: { display: false },
          ticks: {
            autoSkip: false,
            padding: main ? (g.yLeft ? 6 : 9) : 3,
            color: INK,
            font: { family: FONT, size: main ? 16 : 11 },
            callback: (v: any) => decadeLabel(Number(v)),
          },
          title: {
            display: main,
            text: p.kind === 'mainL' ? 'Rock/Chondrite' : 'Rock/Primitive Mantle',
            color: INK,
            font: { family: FONT, size: 16 },
            padding: { top: 8, bottom: 0 },
          },
        },
      },
    },
  };
}

function ChartCanvas({ p }: { p: PanelDef }) {
  const ref = useRef<HTMLCanvasElement>(null);
  const g = geom(p);
  useEffect(() => {
    const chart = new Chart(ref.current as HTMLCanvasElement, buildConfig(p, g));
    return () => chart.destroy();
  }, []);
  return (
    <canvas
      ref={ref}
      width={g.w}
      height={g.h}
      style={{ position: 'absolute', left: g.left, top: g.top, width: g.w, height: g.h, zIndex: p.z }}
    />
  );
}

function Legend({ spec }: { spec: { box: number[]; bg: string; rows: LegendRow[] } }) {
  const [x0, y0, x1, y1] = spec.box;
  const B = 2;
  return (
    <div
      style={{
        position: 'absolute', left: x0, top: y0, width: x1 - x0, height: y1 - y0,
        border: `${B}px solid ${INK}`, boxSizing: 'border-box', background: spec.bg,
        zIndex: 60, fontFamily: FONT, fontSize: 18, color: INK, overflow: 'hidden',
      }}
    >
      {spec.rows.map((r, i) =>
        r.c ? (
          <React.Fragment key={i}>
            <div style={{ position: 'absolute', right: x1 - B - 111, top: r.cy - y0 - B - 11, height: 22, lineHeight: '22px', whiteSpace: 'nowrap' }}>{r.t}</div>
            <div style={{ position: 'absolute', left: 117 - x0 - B, top: r.cy - y0 - B - 4, width: 40, height: 8, background: r.c }} />
          </React.Fragment>
        ) : (
          <div key={i} style={{ position: 'absolute', left: 0, right: 0, textAlign: 'center', top: r.cy - y0 - B - 11, height: 22, lineHeight: '22px', whiteSpace: 'nowrap', fontSize: i === 0 ? 19 : 18 }}>{r.t}</div>
        )
      )}
    </div>
  );
}

export default function App() {
  return (
    <div style={{ position: 'absolute', left: 0, top: 0, width: 1186, height: 1720, background: '#ffffff', overflow: 'hidden' }}>
      {PANELS.map((p) => <ChartCanvas key={p.id} p={p} />)}
      {LEGENDS.map((l, i) => <Legend key={i} spec={l} />)}
    </div>
  );
}
